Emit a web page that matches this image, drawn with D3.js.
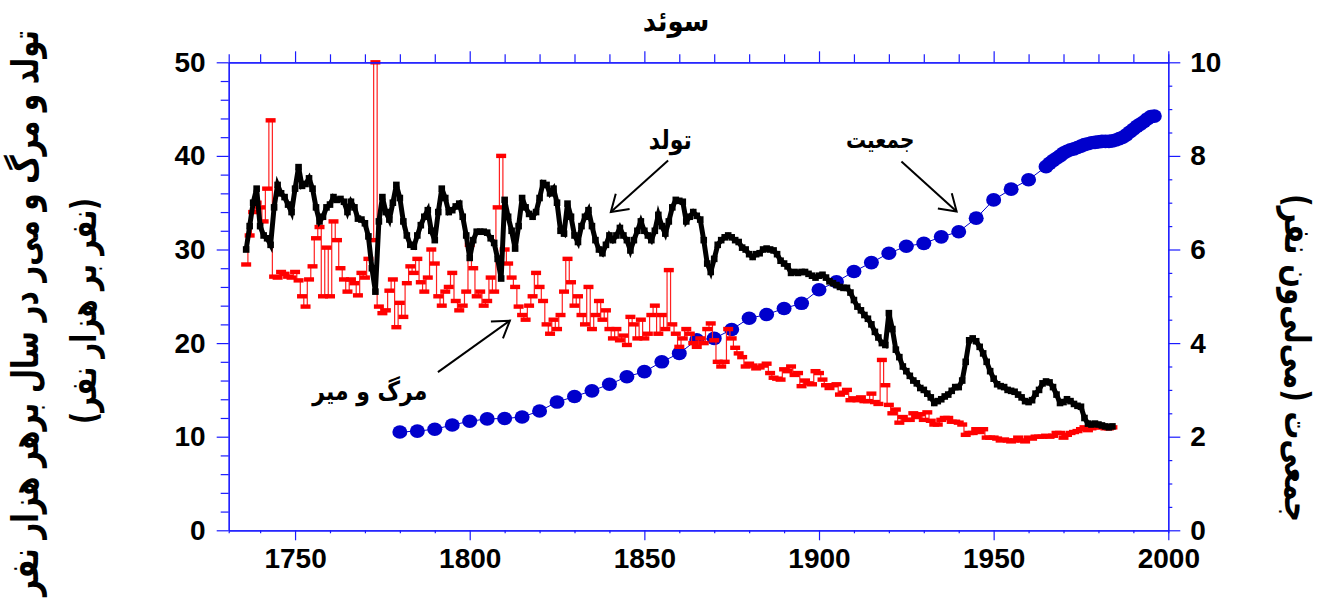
<!DOCTYPE html>
<html>
<head>
<meta charset="utf-8">
<script src="https://cdn.jsdelivr.net/npm/d3@7/dist/d3.min.js"></script>
<style>
  html, body { margin: 0; padding: 0; background: #fff; }
  svg { display: block; }
  .num { font-family: "Liberation Sans", Arial, sans-serif; font-weight: bold; font-size: 28px; fill: #000; }
  .fa { font-family: "DejaVu Sans", sans-serif; font-weight: bold; fill: #000; }
</style>
</head>
<body>
<svg id="chart" width="1318" height="602"></svg>
<script>
// Sweden: crude birth and death rates (per 1000 per year), 1736–1984
const firstRateYear = 1736;
const birthRates = [
  30.0, 32.5, 35.0, 36.5, 32.5, 31.5, 31.2, 30.5, 34.5, 36.9, // 1736-1745
  36.0, 35.6, 34.8, 34.0, 36.5, 38.8, 36.8, 37.0, 37.6, 36.5, // 1746-1755
  34.5, 33.0, 33.5, 34.5, 34.8, 35.6, 35.3, 35.4, 35.1, 34.0, // 1756-1765
  35.1, 34.5, 33.3, 33.2, 32.8, 31.4, 28.0, 25.5, 33.0, 35.6, // 1766-1775
  34.0, 33.2, 35.0, 36.9, 35.5, 33.0, 31.5, 30.5, 30.3, 31.5, // 1776-1785
  32.6, 33.5, 34.2, 32.0, 31.0, 34.0, 36.5, 35.5, 34.0, 34.2, // 1786-1795
  34.6, 34.9, 33.5, 31.5, 29.1, 31.0, 31.9, 31.9, 31.9, 31.8, // 1796-1805
  31.2, 30.7, 29.0, 26.9, 35.3, 33.5, 32.0, 30.1, 32.5, 35.5, // 1806-1815
  34.5, 33.8, 33.5, 34.0, 35.5, 37.1, 36.9, 36.0, 36.5, 35.0, // 1816-1825
  32.0, 31.7, 34.9, 33.5, 31.5, 30.8, 32.5, 33.5, 34.2, 32.5, // 1826-1835
  31.0, 30.0, 29.6, 30.5, 31.5, 31.0, 31.5, 32.3, 31.5, 31.0, // 1836-1845
  29.9, 31.0, 32.0, 33.0, 32.0, 31.5, 31.0, 32.0, 33.7, 32.5, // 1846-1855
  31.7, 33.0, 34.5, 35.3, 35.2, 35.1, 33.0, 33.5, 34.0, 33.6, // 1856-1865
  33.2, 31.0, 28.5, 27.6, 29.0, 30.5, 31.0, 31.3, 31.5, 31.3, // 1866-1875
  31.0, 30.8, 30.2, 30.0, 29.5, 29.2, 29.5, 29.6, 30.0, 30.1, // 1876-1885
  30.0, 29.9, 29.5, 28.8, 28.5, 28.2, 27.5, 27.6, 27.5, 27.6, // 1886-1895
  27.6, 27.4, 27.2, 27.0, 27.2, 27.3, 27.0, 26.6, 26.4, 26.2, // 1896-1905
  26.0, 25.9, 25.9, 25.4, 24.6, 23.9, 23.5, 23.0, 22.6, 22.0, // 1906-1915
  21.2, 20.6, 20.0, 19.8, 23.2, 21.5, 19.3, 18.5, 17.5, 17.0, // 1916-1925
  16.5, 16.0, 15.7, 15.2, 15.0, 14.6, 14.2, 13.6, 13.8, 14.0, // 1926-1935
  14.3, 14.5, 14.9, 15.3, 15.3, 16.0, 18.0, 20.3, 20.5, 20.2, // 1936-1945
  19.6, 18.9, 18.0, 17.0, 16.2, 15.6, 15.4, 15.3, 15.0, 14.9, // 1946-1955
  14.8, 14.5, 14.2, 13.8, 13.7, 13.9, 14.6, 15.0, 15.7, 15.9, // 1956-1965
  15.8, 15.3, 14.5, 13.6, 13.7, 14.0, 13.8, 13.5, 13.3, 13.2, // 1966-1975
  12.0, 11.4, 11.3, 11.4, 11.3, 11.2, 11.1, 11.0, 11.1        // 1976-1984
];
const deathRates = [
  28.4, 31.5, 34.0, 35.0, 34.5, 33.0, 36.5, 43.8, 27.1, 27.0, // 1736-1745
  27.6, 27.4, 27.1, 27.0, 27.6, 26.7, 25.0, 23.9, 26.8, 28.2, // 1746-1755
  31.2, 32.4, 25.0, 30.2, 25.0, 33.0, 31.0, 28.0, 26.8, 25.5, // 1756-1765
  26.8, 26.4, 25.1, 27.5, 27.0, 29.0, 31.0, 50.0, 23.9, 23.2, // 1766-1775
  23.5, 25.6, 26.8, 21.7, 24.3, 22.8, 26.4, 28.2, 27.5, 29.0, // 1776-1785
  26.5, 25.5, 27.0, 30.0, 28.5, 25.0, 24.0, 25.5, 26.0, 27.5, // 1786-1795
  24.5, 23.5, 24.0, 25.5, 30.5, 28.0, 25.0, 25.5, 24.0, 24.5, // 1796-1805
  27.0, 25.5, 34.5, 40.0, 30.0, 28.5, 27.0, 26.0, 23.9, 23.0, // 1806-1815
  22.5, 24.0, 25.0, 27.5, 26.0, 24.5, 22.0, 21.0, 22.5, 21.5, // 1816-1825
  23.0, 25.5, 29.0, 26.5, 24.0, 25.0, 23.0, 22.0, 26.0, 21.5, // 1826-1835
  23.0, 24.5, 22.5, 23.5, 21.5, 20.5, 21.5, 20.3, 20.8, 19.8, // 1836-1845
  22.8, 22.0, 20.5, 22.5, 20.5, 21.0, 23.0, 24.0, 21.0, 23.0, // 1846-1855
  21.5, 27.8, 22.0, 21.0, 19.6, 20.5, 21.5, 21.0, 20.0, 19.6, // 1856-1865
  20.5, 20.0, 21.5, 22.1, 20.3, 18.0, 17.5, 18.0, 21.5, 20.5, // 1866-1875
  19.5, 18.9, 18.5, 17.5, 17.8, 17.6, 17.3, 17.4, 17.6, 17.8, // 1876-1885
  16.8, 16.3, 16.2, 16.1, 17.2, 17.0, 17.5, 16.6, 16.8, 15.4, // 1886-1895
  16.0, 15.7, 15.6, 17.0, 16.8, 16.1, 15.5, 15.2, 15.5, 15.6, // 1896-1905
  14.5, 14.7, 15.0, 13.9, 14.1, 13.9, 14.2, 13.8, 13.8, 14.6, // 1906-1915
  13.7, 13.5, 18.2, 15.5, 13.4, 12.5, 12.9, 11.5, 12.1, 11.8, // 1916-1925
  11.8, 12.5, 12.1, 12.4, 11.8, 12.6, 11.7, 11.3, 11.3, 11.8, // 1926-1935
  12.0, 12.0, 11.6, 11.6, 11.5, 11.3, 10.2, 10.4, 10.4, 10.8, // 1936-1945
  10.5, 10.8, 9.9, 9.9, 9.9, 9.8, 9.6, 9.7, 9.6, 9.5,         // 1946-1955
  9.6, 9.9, 9.6, 9.5, 9.9, 9.8, 10.0, 10.0, 10.0, 10.1,       // 1956-1965
  10.0, 10.1, 10.4, 10.4, 9.9, 10.2, 10.4, 10.5, 10.6, 10.8,  // 1966-1975
  11.0, 10.7, 10.9, 11.0, 11.0, 11.1, 10.9, 10.9, 11.0        // 1976-1984
];

// Population (millions)
const popYears = [
  1780, 1785, 1790, 1795, 1800, 1805, 1810, 1815, 1820, 1825,
  1830, 1835, 1840, 1845, 1850, 1855, 1860, 1865, 1870, 1875,
  1880, 1885, 1890, 1895, 1900, 1905, 1910, 1915, 1920, 1925,
  1930, 1935, 1940, 1945, 1950, 1955, 1960, 1965, 1966, 1967,
  1968, 1969, 1970, 1971, 1972, 1973, 1974, 1975, 1976, 1977,
  1978, 1979, 1980, 1981, 1982, 1983, 1984, 1985, 1986, 1987,
  1988, 1989, 1990, 1991, 1992, 1993, 1994, 1995, 1996
];
const population = [
  2.10, 2.12, 2.16, 2.25, 2.33, 2.38, 2.39, 2.42, 2.55, 2.74,
  2.86, 2.98, 3.12, 3.28, 3.39, 3.60, 3.78, 4.07, 4.10, 4.29,
  4.53, 4.61, 4.74, 4.85, 5.14, 5.31, 5.53, 5.72, 5.92, 6.07,
  6.13, 6.27, 6.38, 6.67, 7.06, 7.29, 7.49, 7.77, 7.84, 7.90,
  7.95, 8.00, 8.06, 8.10, 8.13, 8.15, 8.18, 8.21, 8.24, 8.26,
  8.28, 8.29, 8.30, 8.31, 8.31, 8.31, 8.32, 8.34, 8.37, 8.40,
  8.45, 8.51, 8.57, 8.63, 8.68, 8.73, 8.79, 8.84, 8.85
];

// Axis ticks
const xMajorTicks = [1750, 1800, 1850, 1900, 1950, 2000];
const xMinorTicks = [1740, 1760, 1770, 1780, 1790, 1810, 1820, 1830, 1840, 1860, 1870, 1880,
                     1890, 1910, 1920, 1930, 1940, 1960, 1970, 1980, 1990];
const rateTicks = [0, 10, 20, 30, 40, 50];
const rateMinorTicks = [2, 4, 6, 8, 12, 14, 16, 18, 22, 24, 26, 28, 32, 34, 36, 38, 42, 44, 46, 48];
const popTicks = [0, 2, 4, 6, 8, 10];
const popMinorTicks = [0.5, 1, 1.5, 2.5, 3, 3.5, 4.5, 5, 5.5, 6.5, 7, 7.5, 8.5, 9, 9.5];

// Texts
const chartTitle = "سوئد";
const leftTitle1 = "تولد و مرگ و می‌ر در سال برهر هزار نفر";
const leftTitle2 = "(نفر بر هزار نفر)";
const rightTitle = "جمعی‌ت (می‌لی‌ون نفر)";

// Callouts: label position and arrow from/to, in data units
const birthNote = { text: "تولد", at: [1857.4, 41.6], from: [1856.8, 39.5], to: [1840.4, 34.0] };
const deathNote = { text: "مرگ و میر", at: [1771.4, 14.8], from: [1790.9, 16.9], to: [1811.5, 22.4] };
const popNote   = { text: "جمعیت", at: [1917.5, 8.34], from: [1923.6, 7.88], to: [1939.4, 6.81] };

const svg = d3.select("#chart");
svg.append("rect").attr("width", 1318).attr("height", 602).attr("fill", "#fff");

const x = d3.scaleLinear().domain([1731, 2000]).range([228.7, 1168.3]);
const yRate = d3.scaleLinear().domain([0, 50]).range([530.3, 62.3]);
const yPop = d3.scaleLinear().domain([0, 10]).range([530.3, 62.3]);

const axisBlue = "#1a1aff";

const birth = birthRates.map((v, i) => ({ year: firstRateYear + i, v }));
const death = deathRates.map((v, i) => ({ year: firstRateYear + i, v }));
const pop = population.map((v, i) => ({ year: popYears[i], v }));

// Population: thin line with oval markers
svg.append("path")
  .datum(pop)
  .attr("fill", "none")
  .attr("stroke", "#0000cc")
  .attr("stroke-width", 1)
  .attr("d", d3.line().x(d => x(d.year)).y(d => yPop(d.v)));
svg.append("g").selectAll("ellipse")
  .data(pop).join("ellipse")
  .attr("cx", d => x(d.year)).attr("cy", d => yPop(d.v))
  .attr("rx", 7.5).attr("ry", 6.8)
  .attr("fill", "#0000cc");

// Death rate: thin stepped line with dash markers
svg.append("path")
  .datum(death)
  .attr("fill", "none")
  .attr("stroke", "#ff2020")
  .attr("stroke-width", 1.2)
  .attr("d", d3.line().curve(d3.curveStep).x(d => x(d.year)).y(d => yRate(d.v)));
svg.append("g").selectAll("rect")
  .data(death).join("rect")
  .attr("x", d => x(d.year) - 5).attr("y", d => yRate(d.v) - 2.2)
  .attr("width", 10).attr("height", 4.4)
  .attr("fill", "#ff0000");

// Birth rate: heavy black line with square markers
svg.append("path")
  .datum(birth)
  .attr("fill", "none")
  .attr("stroke", "#000")
  .attr("stroke-width", 5)
  .attr("stroke-linejoin", "miter")
  .attr("d", d3.line().x(d => x(d.year)).y(d => yRate(d.v)));
svg.append("g").selectAll("rect")
  .data(birth).join("rect")
  .attr("x", d => x(d.year) - 3.3).attr("y", d => yRate(d.v) - 3.3)
  .attr("width", 6.6).attr("height", 6.6)
  .attr("fill", "#000");

// Axes
function styleAxis(g) {
  g.selectAll("path.domain").attr("stroke", axisBlue).attr("stroke-width", 1.2);
  g.selectAll(".tick line").attr("stroke", axisBlue).attr("stroke-width", 1.2);
  g.selectAll(".tick text").attr("class", "num").attr("fill", "#000").attr("font-size", null).attr("font-family", null);
  g.attr("font-size", null).attr("font-family", null);
}

svg.append("g").attr("transform", `translate(0,${yRate(0)})`)
  .call(d3.axisBottom(x).tickValues(xMinorTicks).tickSize(3).tickSizeOuter(3).tickFormat(""))
  .call(styleAxis);
svg.append("g").attr("transform", `translate(0,${yRate(0)})`)
  .call(d3.axisBottom(x).tickValues(xMajorTicks).tickSize(10).tickSizeOuter(0).tickPadding(8).tickFormat(d3.format("d")))
  .call(styleAxis);

svg.append("g").attr("transform", `translate(0,${yRate(50)})`)
  .call(d3.axisTop(x).tickValues(xMinorTicks).tickSize(8).tickSizeOuter(8).tickFormat(""))
  .call(styleAxis);
svg.append("g").attr("transform", `translate(0,${yRate(50)})`)
  .call(d3.axisTop(x).tickValues(xMajorTicks).tickSize(11).tickSizeOuter(0).tickFormat(""))
  .call(styleAxis);

svg.append("g").attr("transform", `translate(${x(1731)},0)`)
  .call(d3.axisLeft(yRate).tickValues(rateMinorTicks).tickSize(8).tickSizeOuter(0).tickFormat(""))
  .call(styleAxis);
svg.append("g").attr("transform", `translate(${x(1731)},0)`)
  .call(d3.axisLeft(yRate).tickValues(rateTicks).tickSize(12).tickSizeOuter(0).tickPadding(11).tickFormat(d3.format("d")))
  .call(styleAxis);

svg.append("g").attr("transform", `translate(${x(2000)},0)`)
  .call(d3.axisRight(yPop).tickValues(popMinorTicks).tickSize(4).tickSizeOuter(0).tickFormat(""))
  .call(styleAxis);
svg.append("g").attr("transform", `translate(${x(2000)},0)`)
  .call(d3.axisRight(yPop).tickValues(popTicks).tickSize(12).tickSizeOuter(0).tickPadding(10).tickFormat(d3.format("d")))
  .call(styleAxis);

// Titles
svg.append("text").attr("class", "fa")
  .attr("transform", "translate(676,31) scale(1,1.1)")
  .attr("text-anchor", "middle").attr("font-size", 26)
  .attr("direction", "rtl")
  .text(chartTitle);

// Axis titles are fitted to the space along the frame; glyphs drawn slightly tall
function fitText(sel, target) {
  const len = sel.node().getComputedTextLength();
  const fs = parseFloat(sel.attr("font-size"));
  sel.attr("font-size", fs * target / len);
}

const lt1 = svg.append("text").attr("class", "fa")
  .attr("transform", "translate(38,313) rotate(-90) scale(1,1.35)")
  .attr("text-anchor", "middle").attr("font-size", 30)
  .attr("direction", "rtl")
  .text(leftTitle1);
fitText(lt1, 566);
const lt2 = svg.append("text").attr("class", "fa")
  .attr("transform", "translate(96,311) rotate(-90) scale(1,1.35)")
  .attr("text-anchor", "middle").attr("font-size", 30)
  .attr("direction", "rtl")
  .text(leftTitle2);
fitText(lt2, 226);

const rt = svg.append("text").attr("class", "fa")
  .attr("transform", "translate(1285,358) rotate(90) scale(1,1.3)")
  .attr("text-anchor", "middle").attr("font-size", 30)
  .attr("direction", "rtl")
  .text(rightTitle);
fitText(rt, 328);

// Callouts with open arrowheads
function callout(note, yScale, fs) {
  const [lx, ly] = [x(note.at[0]), yScale(note.at[1])];
  svg.append("text").attr("class", "fa")
    .attr("transform", `translate(${lx},${ly + 8}) scale(1,1.2)`)
    .attr("text-anchor", "middle").attr("font-size", fs)
    .attr("direction", "rtl")
    .text(note.text);
  const x0 = x(note.from[0]), y0 = yScale(note.from[1]);
  const x1 = x(note.to[0]), y1 = yScale(note.to[1]);
  const ang = Math.atan2(y0 - y1, x0 - x1);
  const len = 19, spread = 33 * Math.PI / 180;
  const w1 = [x1 + len * Math.cos(ang - spread), y1 + len * Math.sin(ang - spread)];
  const w2 = [x1 + len * Math.cos(ang + spread), y1 + len * Math.sin(ang + spread)];
  const g = svg.append("g").attr("stroke", "#000").attr("stroke-width", 2).attr("fill", "none");
  g.append("line").attr("x1", x0).attr("y1", y0).attr("x2", x1).attr("y2", y1);
  g.append("path").attr("d", `M${w1[0]},${w1[1]}L${x1},${y1}L${w2[0]},${w2[1]}`);
}
callout(birthNote, yRate, 22);
callout(deathNote, yRate, 22);
callout(popNote, yPop, 20);
</script>
</body>
</html>
